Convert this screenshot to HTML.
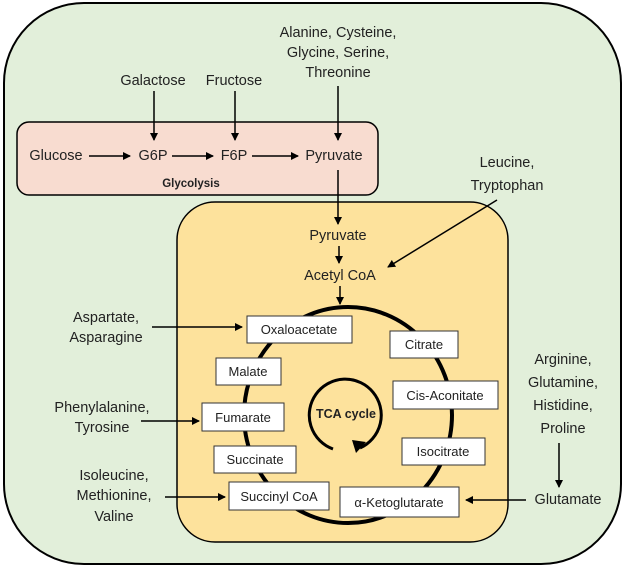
<!DOCTYPE html>
<html><head><meta charset="utf-8"><style>
html,body{margin:0;padding:0;background:#fff}
svg{display:block}
text{font-family:"Liberation Sans",sans-serif;font-size:14.5px;fill:#222}
</style></head><body>
<svg width="625" height="568" viewBox="0 0 625 568" xmlns="http://www.w3.org/2000/svg">
<defs><marker id="a" markerWidth="8" markerHeight="8" refX="7" refY="4" orient="auto" markerUnits="userSpaceOnUse"><path d="M0,0 L8,4 L0,8 z" fill="#000"/></marker></defs>
<rect x="4" y="3" width="617" height="561" rx="80" fill="#e2efda" stroke="#000" stroke-width="2"/>
<rect x="17" y="122" width="361" height="73" rx="12" fill="#f8dcd0" stroke="#000" stroke-width="1.5"/>
<rect x="177" y="202" width="331" height="340" rx="38" fill="#fde29c" stroke="#000" stroke-width="1.5"/>
<g text-anchor="middle">
<text x="56" y="160">Glucose</text><text x="153" y="160">G6P</text><text x="234" y="160">F6P</text><text x="334" y="160">Pyruvate</text>
<text x="191" y="187" style="font-weight:bold;font-size:11.5px">Glycolysis</text>
<text x="153" y="85">Galactose</text><text x="234" y="85">Fructose</text>
<text x="338" y="37">Alanine, Cysteine,</text><text x="338" y="57">Glycine, Serine,</text><text x="338" y="77">Threonine</text>
<text x="338" y="240">Pyruvate</text><text x="340" y="280">Acetyl CoA</text>
<text x="507" y="167">Leucine,</text><text x="507" y="190">Tryptophan</text>
<text x="563" y="364">Arginine,</text><text x="563" y="387">Glutamine,</text><text x="563" y="410">Histidine,</text><text x="563" y="433">Proline</text>
<text x="568" y="504">Glutamate</text>
<text x="106" y="322">Aspartate,</text><text x="106" y="342">Asparagine</text>
<text x="102" y="412">Phenylalanine,</text><text x="102" y="432">Tyrosine</text>
<text x="114" y="480">Isoleucine,</text><text x="114" y="500">Methionine,</text><text x="114" y="521">Valine</text>
</g>
<g stroke="#000" stroke-width="1.5" marker-end="url(#a)">
<line x1="89" y1="156" x2="130" y2="156"/><line x1="172" y1="156" x2="213" y2="156"/><line x1="252" y1="156" x2="298" y2="156"/>
<line x1="154" y1="91" x2="154" y2="140"/><line x1="235" y1="91" x2="235" y2="140"/><line x1="338" y1="86" x2="338" y2="140"/>
<line x1="338" y1="170" x2="338" y2="224"/><line x1="339" y1="246" x2="339" y2="263"/><line x1="340" y1="286" x2="340" y2="304"/>
<line x1="497" y1="200" x2="388" y2="267"/>
<line x1="559" y1="443" x2="559" y2="487"/><line x1="526" y1="500" x2="466" y2="500"/>
<line x1="152" y1="327" x2="242" y2="327"/><line x1="141" y1="421" x2="199" y2="421"/><line x1="165" y1="497" x2="225" y2="497"/>
</g>
<ellipse cx="348" cy="415" rx="104" ry="108" fill="none" stroke="#000" stroke-width="4"/>
<path d="M333,449 A36,36 0 1 1 360,448" fill="none" stroke="#000" stroke-width="3"/>
<path d="M352,440 L366,442 L356,453 z" fill="#000"/>
<text x="346" y="418" text-anchor="middle" style="font-weight:bold;font-size:12.5px">TCA cycle</text>
<g fill="#fff" stroke="#333" stroke-width="1">
<rect x="247" y="316" width="105" height="27"/><rect x="390" y="331" width="68" height="27"/>
<rect x="216" y="358" width="65" height="27"/><rect x="393" y="381" width="105" height="28"/>
<rect x="202" y="403" width="82" height="28"/><rect x="402" y="438" width="83" height="27"/>
<rect x="214" y="446" width="82" height="27"/><rect x="229" y="482" width="100" height="28"/>
<rect x="340" y="487" width="119" height="30"/>
</g>
<g text-anchor="middle">
<text x="299" y="334" style="font-size:13px">Oxaloacetate</text><text x="424" y="349" style="font-size:13px">Citrate</text>
<text x="248" y="376" style="font-size:13px">Malate</text><text x="445" y="400" style="font-size:13px">Cis-Aconitate</text>
<text x="243" y="422" style="font-size:13px">Fumarate</text><text x="443" y="456" style="font-size:13px">Isocitrate</text>
<text x="255" y="464" style="font-size:13px">Succinate</text><text x="279" y="501" style="font-size:13px">Succinyl CoA</text>
<text x="399" y="507" style="font-size:13px">α-Ketoglutarate</text>
</g>
</svg>
</body></html>
